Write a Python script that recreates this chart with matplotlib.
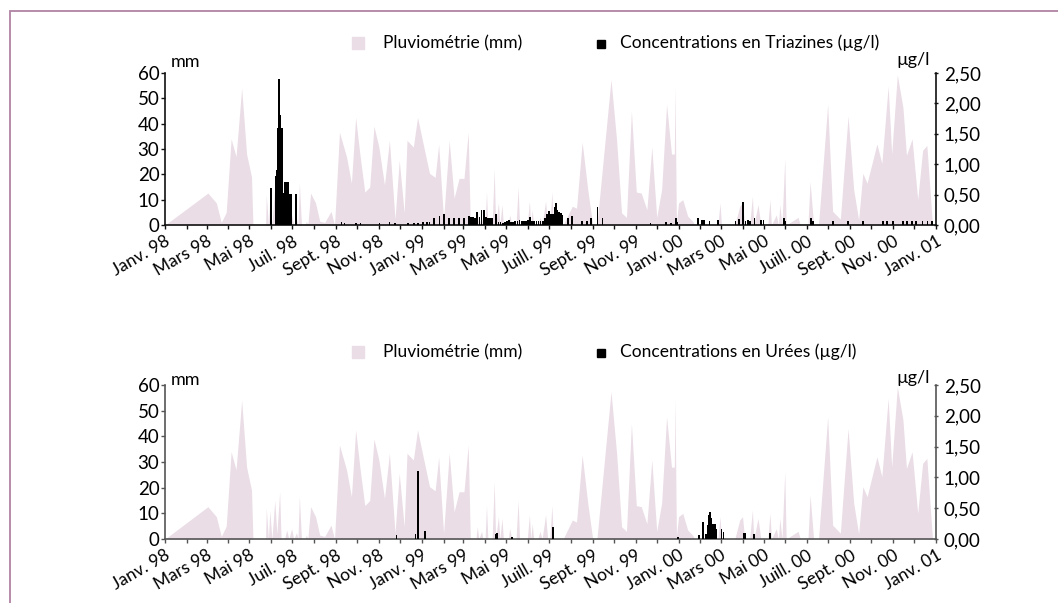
import matplotlib
matplotlib.use("Agg")
import matplotlib.pyplot as plt
import matplotlib.dates as mdates
import matplotlib.transforms as mtransforms
from matplotlib.lines import Line2D
from matplotlib.patches import Rectangle
import pandas as pd

plt.rcParams["font.family"] = ["Lato", "DejaVu Sans"]

RAIN_COLOR = "#eadde6"
FRAME_COLOR = "#b084a4"

# pluviometrie (mm), same series on both panels
rain_dates = [
    "1998-01-01", "1998-03-03", "1998-03-15", "1998-03-22", "1998-03-29", "1998-04-05",
    "1998-04-12", "1998-04-20", "1998-04-27", "1998-05-04", "1998-05-06", "1998-05-24",
    "1998-05-25", "1998-05-28", "1998-05-30", "1998-06-02", "1998-06-06", "1998-06-09",
    "1998-06-13", "1998-06-15", "1998-06-20", "1998-06-23", "1998-06-26", "1998-06-30",
    "1998-07-03", "1998-07-07", "1998-07-09", "1998-07-11", "1998-07-14", "1998-07-19",
    "1998-07-21", "1998-07-23", "1998-07-27", "1998-08-03", "1998-08-09", "1998-08-16",
    "1998-08-25", "1998-08-30", "1998-09-06", "1998-09-16", "1998-09-23", "1998-09-29",
    "1998-10-05", "1998-10-12", "1998-10-19", "1998-10-25", "1998-11-01", "1998-11-09",
    "1998-11-16", "1998-11-24", "1998-11-30", "1998-12-07", "1998-12-11", "1998-12-20",
    "1998-12-26", "1999-01-03", "1999-01-12", "1999-01-20", "1999-01-25", "1999-02-01",
    "1999-02-09", "1999-02-16", "1999-02-23", "1999-03-02", "1999-03-08", "1999-03-11",
    "1999-03-19", "1999-03-21", "1999-03-23", "1999-03-27", "1999-03-29", "1999-04-01",
    "1999-04-03", "1999-04-05", "1999-04-11", "1999-04-14", "1999-04-16", "1999-04-20",
    "1999-04-22", "1999-04-25", "1999-04-27", "1999-05-04", "1999-05-06", "1999-05-09",
    "1999-05-15", "1999-05-18", "1999-05-20", "1999-05-31", "1999-06-03", "1999-06-05",
    "1999-06-07", "1999-06-09", "1999-06-15", "1999-06-18", "1999-06-21", "1999-06-26",
    "1999-06-29", "1999-07-02", "1999-07-05", "1999-07-07", "1999-07-21", "1999-08-03",
    "1999-08-09", "1999-08-17", "1999-08-25", "1999-09-01", "1999-09-07", "1999-09-15",
    "1999-09-27", "1999-10-05", "1999-10-12", "1999-10-19", "1999-10-26", "1999-11-02",
    "1999-11-09", "1999-11-17", "1999-11-24", "1999-12-01", "1999-12-08", "1999-12-15",
    "1999-12-22", "1999-12-26", "1999-12-27", "1999-12-29", "2000-01-01", "2000-01-07",
    "2000-01-14", "2000-01-21", "2000-01-24", "2000-02-07", "2000-02-26", "2000-02-29",
    "2000-03-02", "2000-03-21", "2000-03-28", "2000-04-01", "2000-04-04", "2000-04-11",
    "2000-04-15", "2000-04-17", "2000-04-23", "2000-04-27", "2000-05-07", "2000-05-10",
    "2000-05-12", "2000-05-19", "2000-05-22", "2000-05-24", "2000-05-27", "2000-05-31",
    "2000-06-02", "2000-06-19", "2000-06-22", "2000-07-03", "2000-07-06", "2000-07-11",
    "2000-07-18", "2000-07-31", "2000-08-07", "2000-08-18", "2000-08-29", "2000-09-06",
    "2000-09-13", "2000-09-19", "2000-09-25", "2000-10-09", "2000-10-16", "2000-10-25",
    "2000-10-30", "2000-11-07", "2000-11-15", "2000-11-20", "2000-11-28", "2000-12-06",
    "2000-12-13", "2000-12-19", "2000-12-27",
]
rain_mm = [
    0, 12.6, 8.7, 1, 5, 34,
    27, 54, 28, 19, 0, 0,
    12, 0, 11, 0, 15, 2,
    18.4, 0, 0, 3.5, 0, 4,
    0, 2.5, 0, 16.5, 0, 0,
    1.5, 0, 12.6, 8.7, 1.5, 1,
    5.4, 0, 36.6, 27, 16.5, 42.5,
    28, 13, 15, 39, 30.8, 15.8,
    33.4, 2.3, 25.6, 4.8, 33.4, 30.8,
    42.5, 32, 20.4, 18.8, 31.8, 2.2,
    33.4, 10.6, 18.4, 18.4, 36.6, 0,
    0, 4.8, 0, 3, 0, 0,
    13, 0, 0, 22.3, 0, 8.7,
    0, 8, 0, 0, 4, 0,
    0, 15, 0, 0, 9.4, 0,
    6, 0, 0, 3, 0, 9.4,
    0, 0, 13, 0, 0, 7.4,
    6.6, 32.7, 13.9, 0, 0, 23,
    57.4, 33.4, 4.8, 3, 45, 13,
    12.6, 6, 30.8, 3, 14, 47.6,
    28, 28, 54.8, 1, 8.7, 10,
    3.5, 1.5, 0, 0, 0, 8.7,
    0, 0, 7.4, 8.7, 0, 0,
    11.3, 0, 8, 0, 0, 10,
    0, 4, 0, 8, 0, 26.2,
    0, 3, 0, 0, 17.1, 0,
    0, 47.6, 5.4, 2.3, 43, 14,
    2, 20.4, 16.5, 32, 24.3, 54.8,
    28, 59.3, 46.4, 27.5, 34, 10,
    29.5, 31.4, 0,
]

# concentrations en triazines (ug/l)
tri_dates = [
    "1998-06-01", "1998-06-07", "1998-06-08", "1998-06-09", "1998-06-10", "1998-06-11",
    "1998-06-12", "1998-06-13", "1998-06-14", "1998-06-15", "1998-06-16", "1998-06-17",
    "1998-06-18", "1998-06-19", "1998-06-20", "1998-06-21", "1998-06-22", "1998-06-23",
    "1998-06-24", "1998-06-25", "1998-06-26", "1998-06-27", "1998-06-28", "1998-06-29",
    "1998-07-06", "1998-09-09", "1998-09-13", "1998-09-30", "1998-10-06", "1998-11-02",
    "1998-11-16", "1998-11-24", "1998-12-12", "1998-12-21", "1998-12-27", "1999-01-03",
    "1999-01-08", "1999-01-12", "1999-01-18", "1999-01-26", "1999-02-02", "1999-02-09",
    "1999-02-16", "1999-02-23", "1999-03-02", "1999-03-09", "1999-03-12", "1999-03-15",
    "1999-03-18", "1999-03-21", "1999-03-24", "1999-03-27", "1999-03-30", "1999-04-02",
    "1999-04-05", "1999-04-08", "1999-04-11", "1999-04-17", "1999-04-20", "1999-04-23",
    "1999-04-26", "1999-04-29", "1999-05-02", "1999-05-05", "1999-05-08", "1999-05-11",
    "1999-05-14", "1999-05-17", "1999-05-20", "1999-05-23", "1999-05-26", "1999-05-29",
    "1999-06-01", "1999-06-04", "1999-06-07", "1999-06-10", "1999-06-13", "1999-06-16",
    "1999-06-19", "1999-06-22", "1999-06-25", "1999-06-28", "1999-07-01", "1999-07-04",
    "1999-07-07", "1999-07-09", "1999-07-11", "1999-07-13", "1999-07-15", "1999-07-18",
    "1999-07-20", "1999-07-28", "1999-08-03", "1999-08-17", "1999-08-24", "1999-08-30",
    "1999-09-08", "1999-09-15", "1999-11-22", "1999-12-14", "1999-12-21", "1999-12-28",
    "1999-12-30", "2000-01-29", "2000-02-03", "2000-02-05", "2000-02-07", "2000-02-14",
    "2000-02-26", "2000-03-22", "2000-03-27", "2000-04-02", "2000-04-05", "2000-04-09",
    "2000-04-12", "2000-04-18", "2000-04-27", "2000-05-01", "2000-05-30", "2000-06-01",
    "2000-07-07", "2000-07-10", "2000-08-08", "2000-08-29", "2000-09-19", "2000-10-18",
    "2000-10-23", "2000-11-01", "2000-11-15", "2000-11-21", "2000-11-28", "2000-12-04",
    "2000-12-13", "2000-12-20", "2000-12-26",
]
tri_ugl = [
    0.61, 0.81, 0.81, 0.90, 1.60, 1.60,
    2.40, 1.81, 1.81, 1.60, 1.60, 0.52,
    0.52, 0.52, 0.70, 0.70, 0.70, 0.70,
    0.70, 0.70, 0.51, 0.51, 0.51, 0.51,
    0.51, 0.05, 0.04, 0.025, 0.04, 0.04,
    0.05, 0.04, 0.025, 0.025, 0.03, 0.05,
    0.05, 0.05, 0.12, 0.15, 0.18, 0.12,
    0.12, 0.12, 0.11, 0.14, 0.13, 0.13,
    0.12, 0.21, 0.13, 0.25, 0.25, 0.13,
    0.12, 0.12, 0.11, 0.18, 0.05, 0.05,
    0.04, 0.05, 0.06, 0.08, 0.05, 0.05,
    0.06, 0.06, 0.08, 0.06, 0.06, 0.06,
    0.08, 0.13, 0.07, 0.06, 0.06, 0.06,
    0.06, 0.07, 0.12, 0.18, 0.23, 0.18,
    0.18, 0.30, 0.37, 0.24, 0.22, 0.20,
    0.17, 0.11, 0.14, 0.07, 0.07, 0.11,
    0.30, 0.11, 0.04, 0.05, 0.03, 0.11,
    0.05, 0.12, 0.09, 0.09, 0.08, 0.07,
    0.08, 0.07, 0.10, 0.38, 0.07, 0.08,
    0.07, 0.11, 0.08, 0.08, 0.12, 0.07,
    0.11, 0.06, 0.07, 0.07, 0.07, 0.06,
    0.06, 0.06, 0.07, 0.07, 0.07, 0.07,
    0.07, 0.07, 0.06,
]

# concentrations en urees (ug/l)
uree_dates = [
    "1998-11-26", "1998-12-23", "1998-12-27", "1999-01-06", "1999-04-16", "1999-04-18",
    "1999-05-09", "1999-07-07", "1999-12-31", "2000-01-30", "2000-02-05", "2000-02-09",
    "2000-02-12", "2000-02-13", "2000-02-14", "2000-02-15", "2000-02-17", "2000-02-19",
    "2000-02-22", "2000-02-24", "2000-03-02", "2000-03-05", "2000-04-03", "2000-04-05",
    "2000-04-17", "2000-05-10",
]
uree_ugl = [
    0.065, 0.075, 1.11, 0.13, 0.08, 0.10,
    0.04, 0.19, 0.04, 0.06, 0.28, 0.08,
    0.23, 0.39, 0.28, 0.44, 0.34, 0.25,
    0.24, 0.16, 0.17, 0.12, 0.09, 0.09,
    0.085, 0.09,
]

tick_dates = [
    "1998-01-01", "1998-03-01", "1998-05-01", "1998-07-01", "1998-09-01", "1998-11-01",
    "1999-01-01", "1999-03-01", "1999-05-01", "1999-07-01", "1999-09-01", "1999-11-01",
    "2000-01-01", "2000-03-01", "2000-05-01", "2000-07-01", "2000-09-01", "2000-11-01",
    "2001-01-01",
]
tick_labels = [
    "Janv. 98", "Mars 98", "Mai 98", "Juil. 98", "Sept. 98", "Nov. 98",
    "Janv. 99", "Mars 99", "Mai 99", "Juill. 99", "Sept. 99", "Nov. 99",
    "Janv. 00", "Mars 00", "Mai 00", "Juill. 00", "Sept. 00", "Nov. 00",
    "Janv. 01",
]
mm_ticks = [0, 10, 20, 30, 40, 50, 60]
ugl_ticks = [0, 0.5, 1.0, 1.5, 2.0, 2.5]
ugl_labels = ["0,00", "0,50", "1,00", "1,50", "2,00", "2,50"]

W, H = 1058, 603


def px(x, y):
    return x / W, 1 - y / H


def panel(fig, top, bottom, c_dates, c_vals, c_name, axis_color, leg_y, unit_y):
    x0, y0 = px(165, bottom)
    x1, y1 = px(936, top)
    ax = fig.add_axes([x0, y0, x1 - x0, y1 - y0])
    ax.fill_between(pd.to_datetime(rain_dates), rain_mm, 0, color=RAIN_COLOR, lw=0)
    ax.set_ylim(0, 60)
    ax.set_yticks(mm_ticks)
    ax.set_xlim(pd.Timestamp("1998-01-01"), pd.Timestamp("2001-01-01"))
    ax.set_xticks(pd.to_datetime(tick_dates))
    ax.set_xticklabels(tick_labels, rotation=30, ha="right", rotation_mode="anchor")
    shift = mtransforms.ScaledTranslation(8 / 100, -2 / 100, fig.dpi_scale_trans)
    for lab in ax.get_xticklabels():
        lab.set_transform(lab.get_transform() + shift)
    ax.xaxis.set_minor_locator(mdates.MonthLocator())
    ax.tick_params(axis="x", which="both", length=3, width=1, direction="out",
                   color=axis_color, labelsize=12.5, pad=3)
    ax.tick_params(axis="y", length=3, width=1, direction="out", color=axis_color,
                   labelsize=13.5, pad=1)
    for s in ["top", "right"]:
        ax.spines[s].set_visible(False)
    for s in ["left", "bottom"]:
        ax.spines[s].set_color(axis_color)
        ax.spines[s].set_linewidth(1.2)
    ax.patch.set_alpha(0)

    ax2 = ax.twinx()
    ax2.bar(pd.to_datetime(c_dates), c_vals, width=2.4, color="black", lw=0)
    ax2.set_ylim(0, 2.5)
    ax2.set_yticks(ugl_ticks)
    ax2.set_yticklabels(ugl_labels)
    ax2.tick_params(axis="y", length=3, width=1, direction="inout", color=axis_color,
                    labelsize=13.5, pad=4)
    for s in ["top", "left", "bottom"]:
        ax2.spines[s].set_visible(False)
    ax2.spines["right"].set_color(axis_color)
    ax2.spines["right"].set_linewidth(1.2)

    # unit labels
    fig.text(*px(171, unit_y), "mm", fontsize=13, va="center", ha="left")
    fig.text(*px(930, unit_y - 2), "\u00b5g/l", fontsize=13, va="center", ha="right")

    # legend
    fig.add_artist(Line2D([px(358, leg_y)[0]], [px(358, leg_y)[1]], marker="s",
                          markersize=8, color=RAIN_COLOR, lw=0))
    fig.text(*px(383, leg_y), "Pluviométrie (mm)", fontsize=12.5, va="center")
    fig.add_artist(Line2D([px(601, leg_y + 1)[0]], [px(601, leg_y + 1)[1]], marker="s",
                          markersize=6, color="black", lw=0))
    fig.text(*px(620, leg_y), c_name, fontsize=12.5, va="center")
    return ax, ax2


fig = plt.figure(figsize=(W / 100, H / 100), dpi=100)

# frame around the figure (cut at the right and bottom)
fig.add_artist(Rectangle(px(10, 700), 1.2, (700 - 11) / H, transform=fig.transFigure,
                         fill=False, edgecolor=FRAME_COLOR, lw=1.3))

panel(fig, 73, 225, tri_dates, tri_ugl, "Concentrations en Triazines (\u00b5g/l)",
      "#111111", 43, 62)
panel(fig, 385, 539, uree_dates, uree_ugl, "Concentrations en Urées (\u00b5g/l)",
      "#555555", 352, 380)

fig.savefig("out.png", dpi=100)
